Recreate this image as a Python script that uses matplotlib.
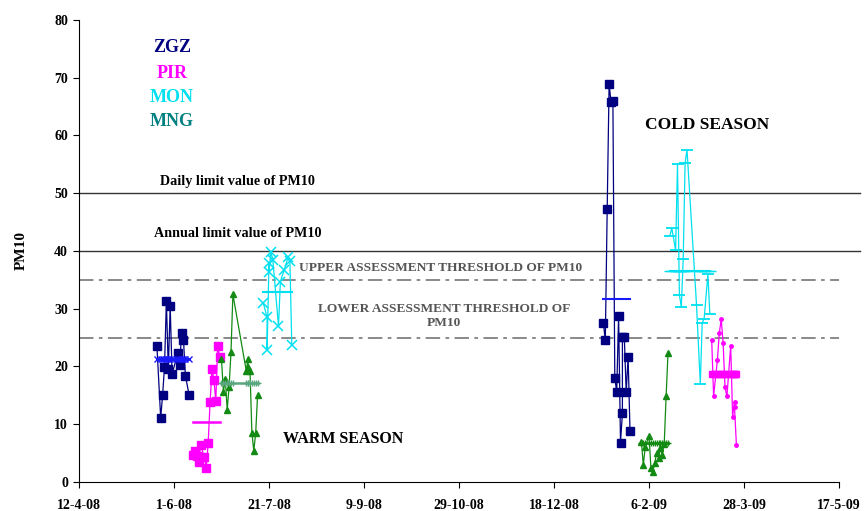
import numpy as np
import pandas as pd
import matplotlib
matplotlib.use("Agg")
import matplotlib.pyplot as plt

plt.rcParams["font.family"] = ["Liberation Serif", "DejaVu Serif"]
plt.rcParams["font.weight"] = "bold"

# --- PM10 daily values per network, warm season campaign (2008) ---
zgz_warm_dates = ["2008-05-23", "2008-05-25", "2008-05-26", "2008-05-27", "2008-05-28",
                  "2008-05-29", "2008-05-30", "2008-05-31", "2008-06-03", "2008-06-04",
                  "2008-06-05", "2008-06-06", "2008-06-07", "2008-06-09"]
zgz_warm = [23.6, 11.1, 15.0, 19.9, 31.3, 19.5, 30.4, 18.7, 22.3, 20.2, 25.8, 24.6, 18.4, 15.0]

pir_warm_dates = ["2008-06-11", "2008-06-12", "2008-06-13", "2008-06-14", "2008-06-15",
                  "2008-06-17", "2008-06-18", "2008-06-19", "2008-06-20", "2008-06-21",
                  "2008-06-22", "2008-06-23", "2008-06-24", "2008-06-25"]
pir_warm = [4.6, 5.4, 4.5, 3.4, 6.4, 4.3, 2.5, 6.8, 13.8, 19.5, 17.7, 14.0, 23.5, 21.7]

mng_warm_dates = ["2008-06-26", "2008-06-27", "2008-06-28", "2008-06-29", "2008-06-30",
                  "2008-07-01", "2008-07-02", "2008-07-09", "2008-07-10", "2008-07-10",
                  "2008-07-11", "2008-07-12", "2008-07-13", "2008-07-14", "2008-07-15"]
mng_warm = [21.3, 15.6, 17.9, 12.5, 16.5, 22.5, 32.5, 19.3, 21.3, 19.9, 19.3, 8.5, 5.4, 8.5, 15.1]

mon_warm_dates = ["2008-07-18", "2008-07-20", "2008-07-20", "2008-07-21", "2008-07-21",
                  "2008-07-22", "2008-07-23", "2008-07-26", "2008-07-27", "2008-07-29",
                  "2008-07-31", "2008-08-01", "2008-08-02"]
mon_warm = [31.0, 28.5, 22.9, 37.9, 36.4, 39.8, 38.5, 27.0, 34.7, 36.7, 38.9, 38.2, 23.7]

# --- cold season campaign (2009) ---
zgz_cold_dates = ["2009-01-13", "2009-01-14", "2009-01-15", "2009-01-16", "2009-01-17",
                  "2009-01-18", "2009-01-19", "2009-01-20", "2009-01-21", "2009-01-22",
                  "2009-01-23", "2009-01-23", "2009-01-24", "2009-01-25", "2009-01-26",
                  "2009-01-27"]
zgz_cold = [27.5, 24.5, 47.3, 68.9, 65.8, 65.9, 18.0, 15.6, 28.8, 6.8, 11.9, 25.1, 25.1,
            15.5, 21.7, 8.8]

mng_cold_dates = ["2009-02-02", "2009-02-03", "2009-02-04", "2009-02-06", "2009-02-07",
                  "2009-02-08", "2009-02-09", "2009-02-10", "2009-02-11", "2009-02-12",
                  "2009-02-13", "2009-02-14", "2009-02-15", "2009-02-16"]
mng_cold = [7.0, 2.9, 6.0, 8.0, 2.5, 1.8, 3.2, 5.0, 4.2, 5.8, 4.7, 6.5, 14.8, 22.3]

mon_cold_dates = ["2009-02-17", "2009-02-18", "2009-02-20", "2009-02-21", "2009-02-22",
                  "2009-02-23", "2009-02-24", "2009-02-25", "2009-02-26", "2009-03-03",
                  "2009-03-05", "2009-03-06", "2009-03-07", "2009-03-09", "2009-03-10"]
mon_cold = [42.6, 44.0, 40.1, 55.1, 32.4, 30.3, 38.6, 55.2, 57.5, 30.7, 17.0, 27.6, 28.2,
            36.0, 29.1]

pir_cold_dates = ["2009-03-11", "2009-03-12", "2009-03-14", "2009-03-15", "2009-03-16",
                  "2009-03-17", "2009-03-18", "2009-03-19", "2009-03-21", "2009-03-22",
                  "2009-03-23", "2009-03-23", "2009-03-24"]
pir_cold = [24.6, 14.9, 21.1, 25.8, 28.2, 24.1, 16.4, 14.8, 23.6, 11.3, 13.9, 13.0, 6.4]

# campaign averages
means = {"zgz_warm": 21.3, "pir_warm": 10.3, "mng_warm": 17.1, "mon_warm": 32.9,
         "zgz_cold": 31.6, "mng_cold": 6.7, "mon_cold": 36.6, "pir_cold": 18.7}

daily_limit = 50
annual_limit = 40
upper_threshold = 35
lower_threshold = 25

NAVY = "#000080"
BLUE = "#1a1aff"
MAGENTA = "#ff00ff"
CYAN = "#00e0f0"
GREEN = "#138a13"
SEAGREEN = "#5aa77f"
TEAL = "#008080"

fig = plt.figure(figsize=(8.68, 5.11), dpi=100)
ax = fig.add_axes([0.091, 0.0568, 0.8756, 0.9042])


def d(lst):
    return pd.to_datetime(lst)


def mean_line(dates, value, color, **kw):
    x = d(dates)
    ax.plot(x, np.full(len(x), value), color=color, **kw)


# reference lines
ax.axhline(daily_limit, xmin=0, xmax=1.027, color="#333333", lw=1, clip_on=False)
ax.axhline(annual_limit, xmin=0, xmax=1.027, color="#333333", lw=1, clip_on=False)
for lev in (upper_threshold, lower_threshold):
    ax.axhline(lev, color="#808080", lw=1.3, dashes=(8, 3, 2, 3))

# warm season
ax.plot(d(zgz_warm_dates), zgz_warm, color=NAVY, marker="s", ms=5.5, lw=0.9)
mean_line(zgz_warm_dates, means["zgz_warm"], BLUE, marker="x", ms=5, lw=2)
ax.plot(d(pir_warm_dates), pir_warm, color=MAGENTA, marker="s", ms=6, lw=0.9)
mean_line(pir_warm_dates, means["pir_warm"], MAGENTA, lw=1.8)
ax.plot(d(mng_warm_dates), mng_warm, color=GREEN, marker="^", ms=4, lw=0.9)
mean_line(mng_warm_dates, means["mng_warm"], SEAGREEN, marker="+", ms=4, lw=1.8)
ax.plot(d(mon_warm_dates), mon_warm, color=CYAN, marker="x", ms=7, mew=1.1, lw=0.9)
mean_line(mon_warm_dates, means["mon_warm"], CYAN, lw=1.5)

# cold season
ax.plot(d(zgz_cold_dates), zgz_cold, color=NAVY, marker="s", ms=5.5, lw=0.9)
mean_line(zgz_cold_dates, means["zgz_cold"], BLUE, lw=1.5)
ax.plot(d(mng_cold_dates), mng_cold, color=GREEN, marker="^", ms=5, lw=0.9)
mean_line(mng_cold_dates, means["mng_cold"], GREEN, marker="+", ms=4, lw=2)
ax.plot(d(mon_cold_dates), mon_cold, color=CYAN, marker="_", ms=8, mew=1.3, lw=0.9)
mean_line(mon_cold_dates, means["mon_cold"], CYAN, marker="_", ms=8, lw=1.5)
ax.plot(d(pir_cold_dates), pir_cold, color=MAGENTA, marker="o", ms=2.5, lw=0.9)
mean_line(pir_cold_dates, means["pir_cold"], MAGENTA, marker="s", ms=5, lw=2)

# axes
ticks = pd.date_range("2008-04-12", periods=9, freq="50D")
ax.set_xlim(ticks[0], ticks[-1])
ax.set_ylim(0, 80)
ax.set_xticks(ticks)
ax.set_xticklabels([f"{t.day}-{t.month}-{t:%y}" for t in ticks])
ax.set_yticks(range(0, 81, 10))
ax.tick_params(direction="out", length=4, labelsize=10, pad=8)
ax.tick_params(axis="y", pad=4)
for s in ("top", "right"):
    ax.spines[s].set_visible(False)
ax.set_ylabel("PM10", fontsize=11, fontweight="bold", labelpad=19)

# labels
lab = dict(transform=ax.transAxes, fontsize=13, ha="center")
ax.text(0.122, 0.93, "ZGZ", color=NAVY, **lab)
ax.text(0.122, 0.874, "PIR", color=MAGENTA, **lab)
ax.text(0.122, 0.822, "MON", color=CYAN, **lab)
ax.text(0.122, 0.77, "MNG", color=TEAL, **lab)
ax.text(0.826, 0.763, "COLD SEASON", transform=ax.transAxes, fontsize=12.5, ha="center")
ax.text(0.347, 0.085, "WARM SEASON", transform=ax.transAxes, fontsize=11.5, ha="center")

ax.text(0.209, 0.642, "Daily limit value of PM10", transform=ax.transAxes, fontsize=10.2, ha="center")
ax.text(0.209, 0.531, "Annual limit value of PM10", transform=ax.transAxes, fontsize=10.2, ha="center")
ax.text(0.476, 0.457, "UPPER ASSESSMENT THRESHOLD OF PM10", transform=ax.transAxes,
        fontsize=9.6, ha="center", color="#555555")
ax.text(0.48, 0.337, "LOWER ASSESSMENT THRESHOLD OF\nPM10", transform=ax.transAxes,
        fontsize=9.6, ha="center", color="#555555", linespacing=1.25)

fig.savefig("out.png", dpi=100)
